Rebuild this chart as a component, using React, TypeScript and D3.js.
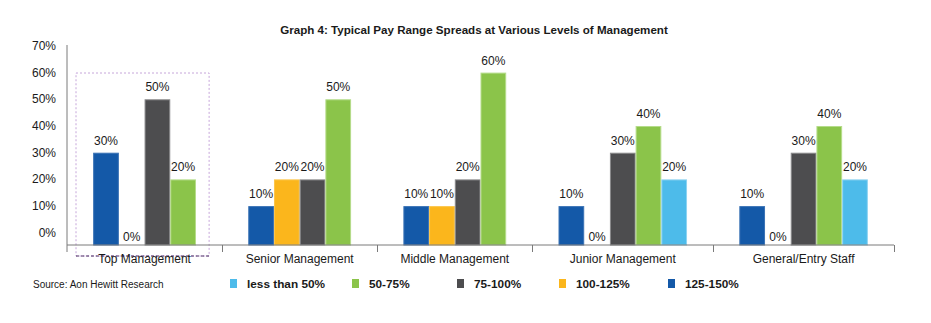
import React from "react";
import * as d3 from "d3";

const categories = ["Top Management", "Senior Management", "Middle Management", "Junior Management", "General/Entry Staff"];
const seriesNames = ["125-150%", "100-125%", "75-100%", "50-75%", "less than 50%"];
const s125to150 = [30, 10, 10, 10, 10];
const s100to125 = [0, 20, 10, 0, 0];
const s75to100 = [50, 20, 20, 30, 30];
const s50to75 = [20, 50, 60, 40, 40];
const sLessThan50: (number | null)[] = [null, null, null, 20, 20];
const yTicks = [0, 10, 20, 30, 40, 50, 60, 70];
const legendOrder = ["less than 50%", "50-75%", "75-100%", "100-125%", "125-150%"];

const seriesValues: (number | null)[][] = [s125to150, s100to125, s75to100, s50to75, sLessThan50];
const colors: Record<string, string> = {
  "125-150%": "#1459a8",
  "100-125%": "#fbb61c",
  "75-100%": "#4d4d4f",
  "50-75%": "#8bc44a",
  "less than 50%": "#4dbbea",
};
const strokes: Record<string, string> = {
  "125-150%": "#3a72b5",
  "100-125%": "#fcc54a",
  "75-100%": "#8a8a8c",
  "50-75%": "#b5dc8a",
  "less than 50%": "#8dd3f1",
};

const W = 931;
const H = 323;
const FONT = "'Liberation Sans', Arial, sans-serif";
const axisLeft = 67;
const axisRight = 894;
const axisY = 245;
const gapUnits = 2.035;
const legendX = [230, 352, 457, 559, 668];

export default function App() {
  const groups = categories.map((c, gi) => {
    const bars = seriesNames
      .map((name, si) => ({ name, value: seriesValues[si][gi] }))
      .filter((b) => b.value !== null) as { name: string; value: number }[];
    return { category: c, bars };
  });
  const totalUnits = d3.sum(groups, (g) => g.bars.length + gapUnits);
  const x = d3.scaleLinear().domain([0, totalUnits]).range([axisLeft, axisRight]);
  const y = d3.scaleLinear().domain([0, 70]).range([232.8, 45.9]);

  let cursor = 0;
  const layout = groups.map((g) => {
    const start = cursor;
    const end = start + g.bars.length + gapUnits;
    cursor = end;
    return { ...g, start, end, barStart: start + gapUnits / 2 };
  });

  return (
    <svg width={W} height={H} style={{ position: "absolute", left: 0, top: 0, background: "#fff" }} fontFamily={FONT}>
      <rect width={W} height={H} fill="#fff" />
      <text x={474} y={34} textAnchor="middle" fontSize={11.6} fontWeight="bold" fill="#1a1a1a">
        Graph 4: Typical Pay Range Spreads at Various Levels of Management
      </text>

      {/* selection box around first group */}
      <rect x={x(layout[0].start) + 9} y={73} width={x(layout[0].end) - x(layout[0].start) - 22} height={183} fill="none" stroke="#c6a6da" strokeWidth={1} strokeDasharray="2,2" />
      <line x1={x(layout[0].start) + 9} x2={x(layout[0].end) - 13} y1={256} y2={256} stroke="#4b2d63" strokeWidth={1} strokeDasharray="3,2" />

      {/* y tick labels */}
      {yTicks.map((t) => (
        <text key={t} x={56} y={y(t) + 4} textAnchor="end" fontSize={12} fill="#1a1a1a">
          {t}%
        </text>
      ))}

      {/* bars */}
      {layout.map((g) =>
        g.bars.map((b, i) => {
          const x0 = x(g.barStart + i);
          const x1 = x(g.barStart + i + 1);
          const top = b.value > 0 ? y(b.value) : axisY;
          return (
            <g key={g.category + b.name}>
              {b.value > 0 && (
                <rect x={x0 + 0.5} y={top + 0.5} width={x1 - x0 - 1} height={axisY - top - 0.5} fill={colors[b.name]} stroke={strokes[b.name]} strokeWidth={1} />
              )}
              <text x={(x0 + x1) / 2} y={b.value > 0 ? top - 8 : axisY - 4} textAnchor="middle" fontSize={12} fill="#1a1a1a">
                {b.value}%
              </text>
            </g>
          );
        })
      )}

      {/* axes */}
      <line x1={axisLeft} x2={axisLeft} y1={45} y2={252} stroke="#7a7a7a" strokeWidth={1} />
      <line x1={axisLeft} x2={axisRight} y1={axisY} y2={axisY} stroke="#7a7a7a" strokeWidth={1} />
      {layout.map((g) => (
        <line key={"t" + g.category} x1={Math.round(x(g.end)) + 0.5} x2={Math.round(x(g.end)) + 0.5} y1={axisY} y2={252} stroke="#7a7a7a" strokeWidth={1} />
      ))}
      {layout.map((g) => (
        <text key={"c" + g.category} x={(x(g.start) + x(g.end)) / 2} y={263} textAnchor="middle" fontSize={12} fill="#1a1a1a">
          {g.category}
        </text>
      ))}

      {/* source + legend */}
      <text x={33} y={288} fontSize={10} fill="#1a1a1a">Source: Aon Hewitt Research</text>
      {legendOrder.map((name, i) => (
        <g key={name}>
          <rect x={legendX[i]} y={279} width={7} height={9} fill={colors[name]} />
          <text x={legendX[i] + 17} y={288} fontSize={11.8} fontWeight="bold" fill="#1a1a1a">
            {name}
          </text>
        </g>
      ))}
    </svg>
  );
}
